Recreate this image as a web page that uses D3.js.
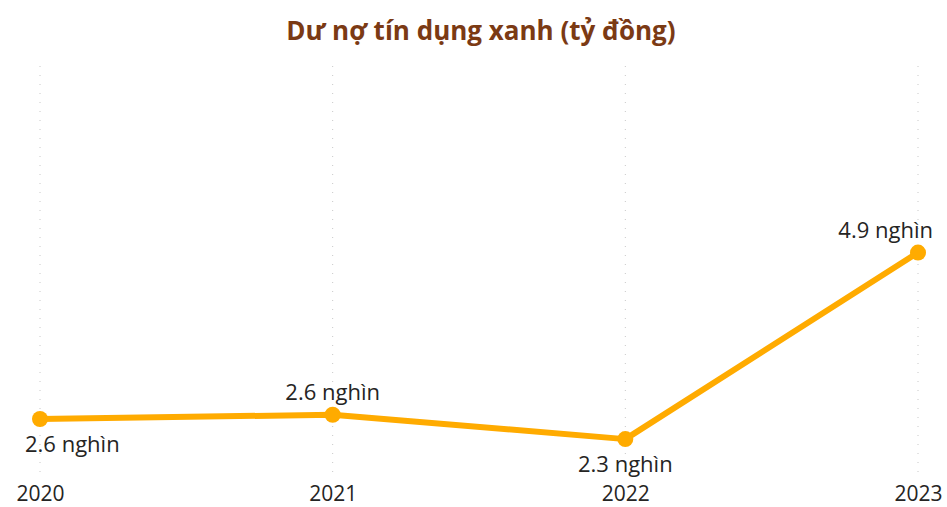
<!DOCTYPE html>
<html>
<head>
<meta charset="utf-8">
<script src="https://cdn.jsdelivr.net/npm/d3@7"></script>
<style>
  body { margin: 0; background: #fff; }
  svg { display: block; font-family: "Open Sans", "Noto Sans", sans-serif; }
</style>
</head>
<body>
<div id="chart"></div>
<script>
// data
var years = ["2020", "2021", "2022", "2023"];
var values = [2.58, 2.64, 2.30, 4.90];   // nghìn tỷ đồng
var labels = ["2.6 nghìn", "2.6 nghìn", "2.3 nghìn", "4.9 nghìn"];
var labelPos = ["below", "above", "below", "above"];

var svgWidth = 947;
var svgHeight = 507;

var svg = d3.select("#chart")
  .append("svg")
  .attr("width", svgWidth)
  .attr("height", svgHeight);

var xScale = d3.scalePoint()
  .domain(years)
  .range([40, 918]);

var yScale = d3.scaleLinear()
  .domain([1.8, 7.5])
  .range([475, 66]);

// title
svg.append("text")
  .attr("x", 481)
  .attr("y", 40)
  .attr("text-anchor", "middle")
  .attr("font-size", 26)
  .attr("font-weight", "bold")
  .attr("fill", "#7B3A14")
  .text("Dư nợ tín dụng xanh (tỷ đồng)");

// vertical dotted gridlines
svg.append("g")
  .selectAll("line")
  .data(years)
  .enter()
  .append("line")
  .attr("x1", d => xScale(d))
  .attr("x2", d => xScale(d))
  .attr("y1", 66)
  .attr("y2", 478)
  .attr("stroke", "#c8c8c8")
  .attr("stroke-width", 1)
  .attr("stroke-dasharray", "1,8");

// x axis labels
var xAxis = d3.axisBottom(xScale).tickSize(0).tickPadding(0);
var xg = svg.append("g")
  .attr("transform", "translate(0, 501)")
  .call(xAxis);
xg.select(".domain").remove();
xg.selectAll("text")
  .attr("dy", null)
  .attr("font-size", 21)
  .attr("fill", "#252423")
  .attr("font-family", "'Open Sans', 'Noto Sans', sans-serif");

// line
var line = d3.line()
  .x((d, i) => xScale(years[i]))
  .y(d => yScale(d));

svg.append("path")
  .datum(values)
  .attr("d", line)
  .attr("fill", "none")
  .attr("stroke", "#FFAB00")
  .attr("stroke-width", 6)
  .attr("stroke-linejoin", "round");

svg.append("g")
  .selectAll("circle")
  .data(values)
  .enter()
  .append("circle")
  .attr("cx", (d, i) => xScale(years[i]))
  .attr("cy", d => yScale(d))
  .attr("r", 8)
  .attr("fill", "#FFAB00");

// data labels, kept inside the chart area
var dataText = svg.append("g")
  .selectAll("text")
  .data(values)
  .enter()
  .append("text")
  .attr("text-anchor", "middle")
  .attr("font-size", 22)
  .attr("fill", "#252423")
  .attr("y", (d, i) => labelPos[i] === "above" ? yScale(d) - 15 : yScale(d) + 33)
  .text((d, i) => labels[i]);

dataText.attr("x", function(d, i) {
  var w = this.getComputedTextLength();
  var cx = xScale(years[i]);
  return Math.max(25 + w / 2, Math.min(933 - w / 2, cx));
});
</script>
</body>
</html>
